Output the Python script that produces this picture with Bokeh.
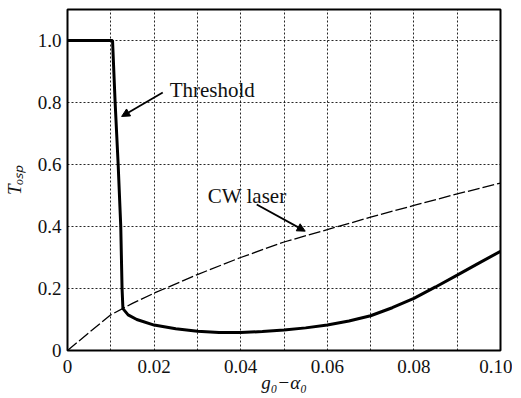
from bokeh.plotting import figure
from bokeh.models import FixedTicker, Arrow, NormalHead, Label, Range1d, CustomJSTickFormatter
from bokeh.embed import file_html
from bokeh.resources import INLINE

# Threshold curve (solid)
thr_x = [0.0, 0.0104, 0.0110, 0.0117, 0.0123, 0.0126, 0.0128, 0.0140, 0.0160, 0.0200,
         0.0250, 0.0300, 0.0350, 0.0400, 0.0450, 0.0500, 0.0550, 0.0600, 0.0650,
         0.0700, 0.0750, 0.0800, 0.0850, 0.0900, 0.0950, 0.1000]
thr_y = [1.0, 1.0, 0.80, 0.60, 0.40, 0.20, 0.135, 0.115, 0.100, 0.082,
         0.070, 0.062, 0.058, 0.058, 0.061, 0.066, 0.073, 0.082, 0.095,
         0.112, 0.138, 0.168, 0.205, 0.243, 0.282, 0.320]

# CW laser curve (dashed)
cw_x = [0.0, 0.005, 0.010, 0.015, 0.020, 0.030, 0.040, 0.050, 0.060, 0.070, 0.080, 0.090, 0.100]
cw_y = [0.0, 0.058, 0.115, 0.152, 0.185, 0.245, 0.300, 0.350, 0.390, 0.430, 0.468, 0.505, 0.540]

x_ticks = [0.0, 0.02, 0.04, 0.06, 0.08, 0.10]
y_ticks = [0.0, 0.2, 0.4, 0.6, 0.8, 1.0]
x_grid = [0.01, 0.02, 0.03, 0.04, 0.05, 0.06, 0.07, 0.08, 0.09]
y_grid = [0.2, 0.4, 0.6, 0.8, 1.0]

FONT = "Liberation Serif"

p = figure(width=507, height=390, output_backend="svg", toolbar_location=None,
           x_range=Range1d(0, 0.1), y_range=Range1d(0, 1.1),
           min_border_left=62, min_border_right=12, min_border_top=9, min_border_bottom=40)
p.frame_width = 433
p.frame_height = 341

p.outline_line_color = "black"
p.outline_line_width = 2
p.background_fill_color = "white"
p.border_fill_color = "white"

for axes in (p.xaxis, p.yaxis):
    axes.axis_line_color = None
    axes.major_tick_out = 0
    axes.major_tick_in = 0
    axes.minor_tick_out = 0
    axes.minor_tick_in = 0
    axes.major_label_text_font = "serif"
    axes.major_label_text_font_size = "19px"
    axes.major_label_text_color = "#111111"
    axes.axis_label_text_font = FONT
    axes.axis_label_text_font_style = "italic"
    axes.axis_label_text_font_size = "19px"
    axes.axis_label_text_color = "#111111"

p.xaxis.ticker = FixedTicker(ticks=x_ticks)
p.xaxis.formatter = CustomJSTickFormatter(code="return Math.abs(tick) < 1e-9 ? '0' : tick.toFixed(2);")
p.yaxis.ticker = FixedTicker(ticks=y_ticks)
p.yaxis.formatter = CustomJSTickFormatter(code="return Math.abs(tick) < 1e-9 ? '0' : tick.toFixed(1);")
p.xaxis.major_label_standoff = 9
p.yaxis.major_label_standoff = 6
p.xaxis.axis_label = "g\u2080\u2212\u03b1\u2080"
p.yaxis.axis_label = "T\u2092\u209b\u209a"
p.xaxis.axis_label_standoff = -4
p.yaxis.axis_label_standoff = 10

p.xgrid.ticker = FixedTicker(ticks=x_grid)
p.ygrid.ticker = FixedTicker(ticks=y_grid)
for g in (p.xgrid[0], p.ygrid[0]):
    g.grid_line_color = "black"
    g.grid_line_width = 1
    g.grid_line_dash = "2 2"
    g.grid_line_alpha = 0.85

p.line(cw_x, cw_y, line_color="black", line_width=1.3, line_dash="12 3")
p.line(thr_x, thr_y, line_color="black", line_width=3)

p.add_layout(Arrow(end=NormalHead(size=8, fill_color="black", line_color="black"),
                   x_start=0.0220, y_start=0.832, x_end=0.0125, y_end=0.755,
                   line_color="black", line_width=1.8))
p.add_layout(Label(x=0.0236, y=0.840, text="Threshold", text_font=FONT,
                   text_font_size="21px", text_baseline="middle", text_color="#111111"))

p.add_layout(Arrow(end=NormalHead(size=8, fill_color="black", line_color="black"),
                   x_start=0.0437, y_start=0.471, x_end=0.0549, y_end=0.385,
                   line_color="black", line_width=1.8))
p.add_layout(Label(x=0.0324, y=0.498, text="CW laser", text_font=FONT,
                   text_font_size="21px", text_baseline="middle", text_color="#111111"))

open("out.html", "w").write(file_html(p, INLINE))
